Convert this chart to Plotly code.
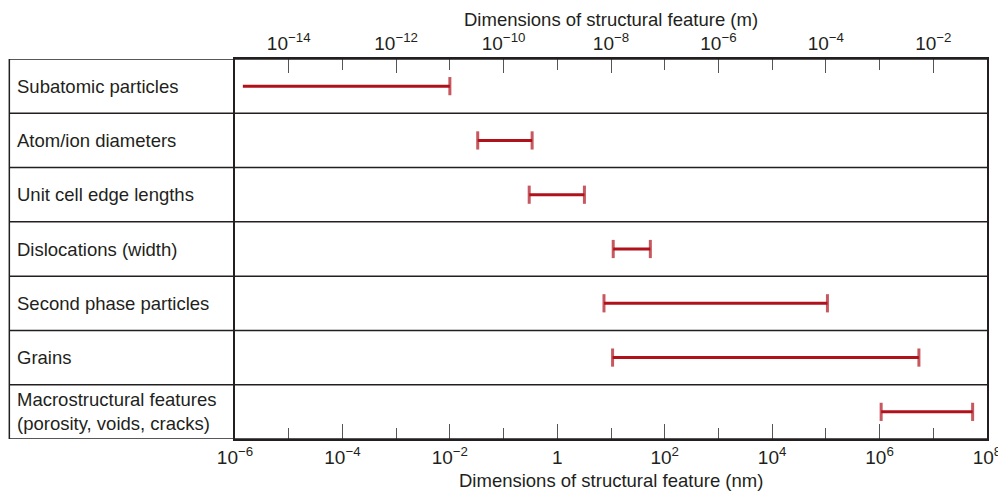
import plotly.graph_objects as go

# structural features, top row first
FEATURES = [
    "Subatomic particles",
    "Atom/ion diameters",
    "Unit cell edge lengths",
    "Dislocations (width)",
    "Second phase particles",
    "Grains",
    "Macrostructural features<br>(porosity, voids, cracks)",
]
# size ranges in nm
LOW_NM = [1.4e-6, 0.033, 0.30, 11, 7.4, 10.7, 1.07e6]
HIGH_NM = [1.0e-2, 0.34, 3.2, 54, 1.07e5, 5.4e6, 5.4e7]
LEFT_CAP = [False, True, True, True, True, True, True]

NM_TICK_EXP = [-6, -4, -2, 0, 2, 4, 6, 8]
NM_TICK_TEXT = ["10<sup>−6</sup>", "10<sup>−4</sup>", "10<sup>−2</sup>", "1",
                "10<sup>2</sup>", "10<sup>4</sup>", "10<sup>6</sup>", "10<sup>8</sup>"]
M_TICK_EXP = [-14, -12, -10, -8, -6, -4, -2]
M_TICK_TEXT = ["10<sup>−14</sup>", "10<sup>−12</sup>", "10<sup>−10</sup>", "10<sup>−8</sup>",
               "10<sup>−6</sup>", "10<sup>−4</sup>", "10<sup>−2</sup>"]
TITLE_NM = "Dimensions of structural feature (nm)"
TITLE_M = "Dimensions of structural feature (m)"

RED = "#B0121C"
INK = "#231F20"
FONT = "Liberation Sans, Arial, sans-serif"
LABEL_X = -0.2923   # left edge of text in the label column (paper units)
FRAME_X = -0.3001   # left border of the table

xs, ys, sizes = [], [], []
for name, lo, hi, cap in zip(FEATURES, LOW_NM, HIGH_NM, LEFT_CAP):
    xs += [lo, hi, None]
    ys += [name, name, None]
    sizes += [13 if cap else 0, 13, 0]

fig = go.Figure()
fig.add_trace(go.Scatter(
    x=xs, y=ys, mode="lines+markers", connectgaps=False,
    line=dict(color=RED, width=3),
    marker=dict(symbol="line-ns", size=sizes, line=dict(color=RED, width=3)),
    hoverinfo="skip", showlegend=False,
))
# same ranges in metres, carried on the top axis (invisible)
fig.add_trace(go.Scatter(
    x=[v * 1e-9 if v is not None else None for v in xs], y=ys, xaxis="x2",
    mode="lines", line=dict(width=0), opacity=0,
    hoverinfo="skip", showlegend=False,
))

tick_font = dict(family=FONT, size=19, color=INK)
title_font = dict(family=FONT, size=18.5, color=INK)

# page body adds an 8px margin, so the figure is 8px smaller each way
fig.update_layout(
    width=998, height=485,
    margin=dict(l=227, r=19, t=51, b=54, autoexpand=False),
    plot_bgcolor="white", paper_bgcolor="white",
    font=title_font,
    xaxis=dict(
        type="log", range=[-6, 8], side="bottom", automargin=False,
        showline=True, linecolor=INK, linewidth=1.5, showgrid=False, zeroline=False,
        tickmode="array", tickvals=[10 ** e for e in NM_TICK_EXP], ticktext=NM_TICK_TEXT,
        ticks="inside", ticklen=15, tickwidth=1.2, tickcolor="#555",
        minor=dict(tickmode="array", tickvals=[10 ** e for e in range(-6, 9)],
                   ticks="inside", ticklen=11, tickwidth=1.2, tickcolor="#555"),
        tickfont=tick_font,
    ),
    xaxis2=dict(
        type="log", range=[-15, -1], side="top", overlaying="x", automargin=False,
        showline=True, linecolor=INK, linewidth=1.5, showgrid=False, zeroline=False,
        tickmode="array", tickvals=[10 ** e for e in M_TICK_EXP], ticktext=M_TICK_TEXT,
        ticks="inside", ticklen=14, tickwidth=1.2, tickcolor="#555",
        minor=dict(tickmode="array", tickvals=[10 ** e for e in range(-15, 0)],
                   ticks="inside", ticklen=11, tickwidth=1.2, tickcolor="#555"),
        tickfont=tick_font,
    ),
    yaxis=dict(
        type="category", categoryarray=FEATURES, range=[len(FEATURES) - 0.5, -0.5],
        automargin=False,
        showline=True, mirror=True, linecolor=INK, linewidth=1.5,
        showgrid=False, zeroline=False, showticklabels=False, ticks="",
    ),
)

# axis titles, placed by hand to sit where the original has them
fig.add_annotation(x=0.5, xref="paper", y=1.1342, yref="paper", text=TITLE_M,
                   showarrow=False, xanchor="center", yanchor="top", borderpad=0,
                   font=title_font)
fig.add_annotation(x=0.5, xref="paper", y=-0.1105, yref="paper", text=TITLE_NM,
                   showarrow=False, xanchor="center", yanchor="middle", font=title_font)

# table rules: row separators and outer frame spanning the label column
for k in range(len(FEATURES) + 1):
    fig.add_shape(type="line", xref="paper", yref="y",
                  x0=FRAME_X, x1=1, y0=k - 0.5, y1=k - 0.5,
                  line=dict(color=INK, width=1.5))
fig.add_shape(type="line", xref="paper", yref="y",
              x0=FRAME_X, x1=FRAME_X, y0=-0.5, y1=len(FEATURES) - 0.5,
              line=dict(color=INK, width=1.5))

for name in FEATURES:
    fig.add_annotation(x=LABEL_X, xref="paper", y=name, yref="y",
                       text=name, showarrow=False, xanchor="left", align="left",
                       font=dict(family=FONT, size=18.5, color=INK))

fig.write_html("out.html")
